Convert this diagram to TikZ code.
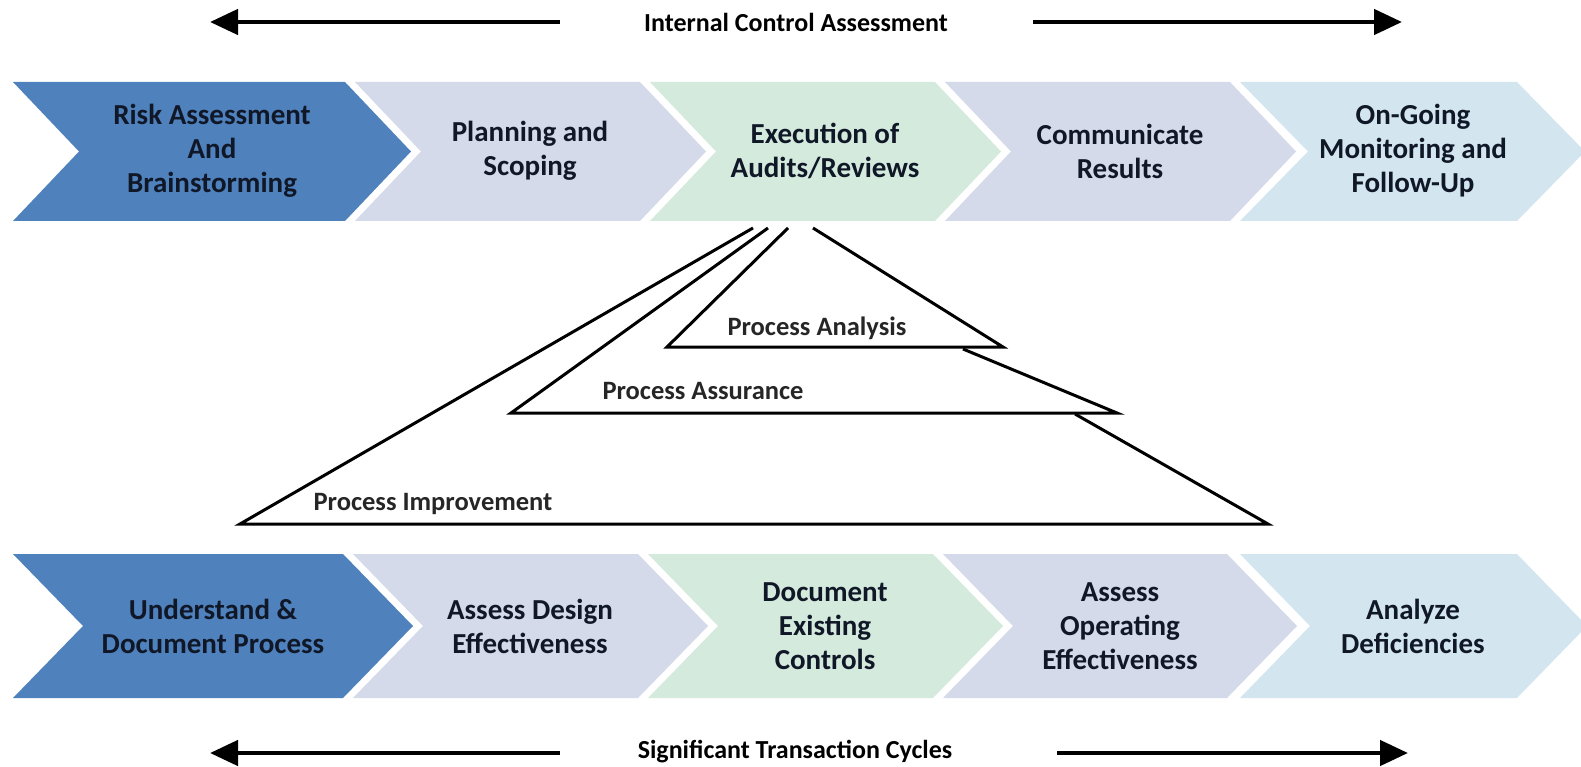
\documentclass[tikz,border=0pt]{standalone}
\usepackage{fontspec}
\setmainfont{Carlito}
\usetikzlibrary{arrows.meta}
\definecolor{cblue}{HTML}{4F81BD}
\definecolor{clav}{HTML}{D5DAEA}
\definecolor{cgreen}{HTML}{D4EADD}
\definecolor{ccyan}{HTML}{D3E6EF}
\definecolor{ctext}{HTML}{101828}
\newcommand\mychev[6]{% L R top bot depth colour
  \fill[#6] (#1,#3) -- (#2,#3) -- ({#2+#5},{(#3+#4)/2}) -- (#2,#4) -- (#1,#4) -- ({#1+#5},{(#3+#4)/2}) -- cycle;}
\tikzset{
  steptext/.style={font=\fontsize{29}{34}\selectfont\bfseries, text=ctext, align=center, inner sep=0pt},
  proclabel/.style={font=\fontsize{26.5}{30}\selectfont\bfseries, text=black!85, inner sep=0pt},
  headlabel/.style={font=\fontsize{26}{30}\selectfont\bfseries, text=black, inner sep=0pt},
  bigarrow/.style={line width=4.5pt, -{Triangle[length=28pt,width=25pt]}},
  triline/.style={line width=3pt, black, line join=miter}
}
\begin{document}
\begin{tikzpicture}[x=1pt,y=-1pt]
\useasboundingbox (0,0) rectangle (1581,767);
\fill[white] (0,0) rectangle (1581,767);
\begin{scope}
\clip (0,0) rectangle (1581,767);

% header and footer
\node[headlabel] (toplabel) at (796,22) {Internal Control Assessment};
\coordinate (ta1) at (560,22);
\coordinate (ta2) at (210,22);
\coordinate (tb1) at (1033,22);
\coordinate (tb2) at (1402,22);
\draw[bigarrow] (ta1) -- (ta2);
\draw[bigarrow] (tb1) -- (tb2);

\node[headlabel] (botlabel) at (795,752) {Significant Transaction Cycles};
\coordinate (ba1) at (560,753);
\coordinate (ba2) at (210,753);
\coordinate (bb1) at (1057,753);
\coordinate (bb2) at (1408,753);
\draw[bigarrow] (ba1) -- (ba2);
\draw[bigarrow] (bb1) -- (bb2);

% top row of chevrons
\mychev{13}{345}{82}{221}{66}{cblue}
\mychev{355}{640}{82}{221}{66}{clav}
\mychev{650}{935}{82}{221}{66}{cgreen}
\mychev{945}{1230}{82}{221}{66}{clav}
\mychev{1240}{1517}{82}{221}{68}{ccyan}
\node[steptext] (t1) at (212,151) {Risk Assessment\\And\\Brainstorming};
\node[steptext] (t2) at (530,151) {Planning and\\Scoping};
\node[steptext] (t3) at (825,151) {Execution of\\Audits/Reviews};
\node[steptext] (t4) at (1120,151) {Communicate\\Results};
\node[steptext] (t5) at (1413,151) {On-Going\\Monitoring and\\Follow-Up};

% bottom row of chevrons
\mychev{13}{343}{554}{698}{70}{cblue}
\mychev{353}{638}{554}{698}{70}{clav}
\mychev{648}{933}{554}{698}{70}{cgreen}
\mychev{943}{1227}{554}{698}{70}{clav}
\mychev{1240}{1517}{554}{698}{70}{ccyan}
\node[steptext] (b1) at (213,626) {Understand \&\\Document Process};
\node[steptext] (b2) at (530,626) {Assess Design\\Effectiveness};
\node[steptext] (b3) at (825,626) {Document\\Existing\\Controls};
\node[steptext] (b4) at (1120,626) {Assess\\Operating\\Effectiveness};
\node[steptext] (b5) at (1413,626) {Analyze\\Deficiencies};

% nested triangles
\draw[triline] (753,228) -- (240,524) -- (1268,524) -- (1075,414);
\draw[triline] (768,228) -- (511,413) -- (1117,413) -- (963,349);
\draw[triline] (788,228) -- (667,347) -- (1003,347) -- (813,228);
\node[proclabel] (pa) at (817,328) {Process Analysis};
\node[proclabel] (ps) at (703,391) {Process Assurance};
\node[proclabel] (pi) at (433,504) {Process Improvement};
\end{scope}
\end{tikzpicture}
\end{document}
